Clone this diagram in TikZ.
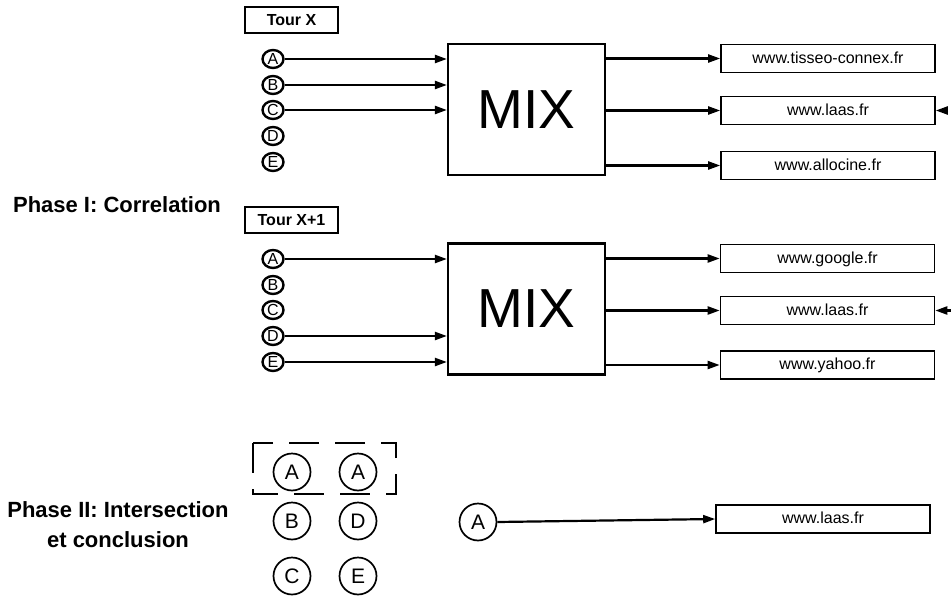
\documentclass[tikz,border=0pt]{standalone}
\usepackage{fontspec}
\setmainfont{Liberation Sans}
\usetikzlibrary{arrows.meta,shapes.geometric}
\begin{document}
\begin{tikzpicture}[x=1pt,y=-1pt,
 sc/.style={ellipse,draw,line width=2.4pt,minimum width=21pt,minimum height=18pt,inner sep=0pt,font=\fontsize{16}{16}\selectfont},
 bc/.style={circle,draw,line width=1.7pt,minimum size=37pt,inner sep=0pt,font=\fontsize{21}{21}\selectfont},
 urlbox/.style={draw,line width=1.6pt,minimum width=214pt,minimum height=28pt,inner sep=0pt,text height=10pt,text depth=1pt,font=\fontsize{16}{16}\selectfont},
 tourbox/.style={draw,line width=1.6pt,minimum width=93pt,minimum height=26pt,inner sep=0pt,font=\bfseries\fontsize{16}{16}\selectfont},
 mixbox/.style={draw,line width=2.2pt,minimum width=157pt,minimum height=131pt,inner sep=0pt,font=\fontsize{55}{55}\selectfont},
 arr/.style={line width=2.2pt,-{Triangle[length=12pt,width=8pt]}},
 phase/.style={font=\bfseries\fontsize{22}{30}\selectfont,align=center}]
\useasboundingbox (0,0) rectangle (951,597);

% Phase labels
\node[phase] (p1) at (117,205) {Phase I: Correlation};
\node[phase] (p2) at (118,525) {Phase II: Intersection\\et conclusion};

% Tour X
\node[tourbox] (t1) at (291.5,20) {Tour X};
\node[mixbox] (m1) at (526.5,109.5) {MIX};
\node[sc] (a1) at (273,59) {A};
\node[sc] (b1) at (273,85) {B};
\node[sc] (c1) at (273,110) {C};
\node[sc] (d1) at (273,136) {D};
\node[sc] (e1) at (273,162) {E};
\draw[arr] (a1.east) -- (a1.east -| m1.west);
\draw[arr] (b1.east) -- (b1.east -| m1.west);
\draw[arr] (c1.east) -- (c1.east -| m1.west);
\node[urlbox] (u1) at (828,58.5) {www.tisseo-connex.fr};
\node[urlbox] (u2) at (828,110.5) {www.laas.fr};
\node[urlbox] (u3) at (828,165.5) {www.allocine.fr};
\draw[arr] (m1.east |- u1.west) -- (u1.west);
\draw[arr] (m1.east |- u2.west) -- (u2.west);
\draw[arr] (m1.east |- u3.west) -- (u3.west);
\coordinate (r1) at (948,110.5);
\draw[arr] (r1) -- (u2.east);

% Tour X+1
\node[tourbox] (t2) at (291.5,220) {Tour X+1};
\node[mixbox] (m2) at (526.5,309) {MIX};
\node[sc] (a2) at (273,259) {A};
\node[sc] (b2) at (273,285) {B};
\node[sc] (c2) at (273,310) {C};
\node[sc] (d2) at (273,336) {D};
\node[sc] (e2) at (273,362) {E};
\draw[arr] (a2.east) -- (a2.east -| m2.west);
\draw[arr] (d2.east) -- (d2.east -| m2.west);
\draw[arr] (e2.east) -- (e2.east -| m2.west);
\node[urlbox] (u4) at (827.5,258.5) {www.google.fr};
\node[urlbox] (u5) at (827.5,310.5) {www.laas.fr};
\node[urlbox] (u6) at (827.5,365) {www.yahoo.fr};
\draw[arr] (m2.east |- u4.west) -- (u4.west);
\draw[arr] (m2.east |- u5.west) -- (u5.west);
\draw[arr] (m2.east |- u6.west) -- (u6.west);
\coordinate (r2) at (951,310.5);
\draw[arr] (r2) -- (u5.east);

% Phase II
\draw[line width=1.6pt,dash pattern=on 30pt off 16pt] (253,443) rectangle (396,494);
\node[bc] (pa1) at (292,472) {A};
\node[bc] (pb) at (292,521) {B};
\node[bc] (pc) at (292,576) {C};
\node[bc] (pa2) at (358,472) {A};
\node[bc] (pd) at (358,521) {D};
\node[bc] (pe) at (358,576) {E};
\node[bc] (fa) at (478,522) {A};
\node[urlbox] (u7) at (823,519) {www.laas.fr};
\draw[arr] (fa.east) -- (u7.west);
\end{tikzpicture}
\end{document}
